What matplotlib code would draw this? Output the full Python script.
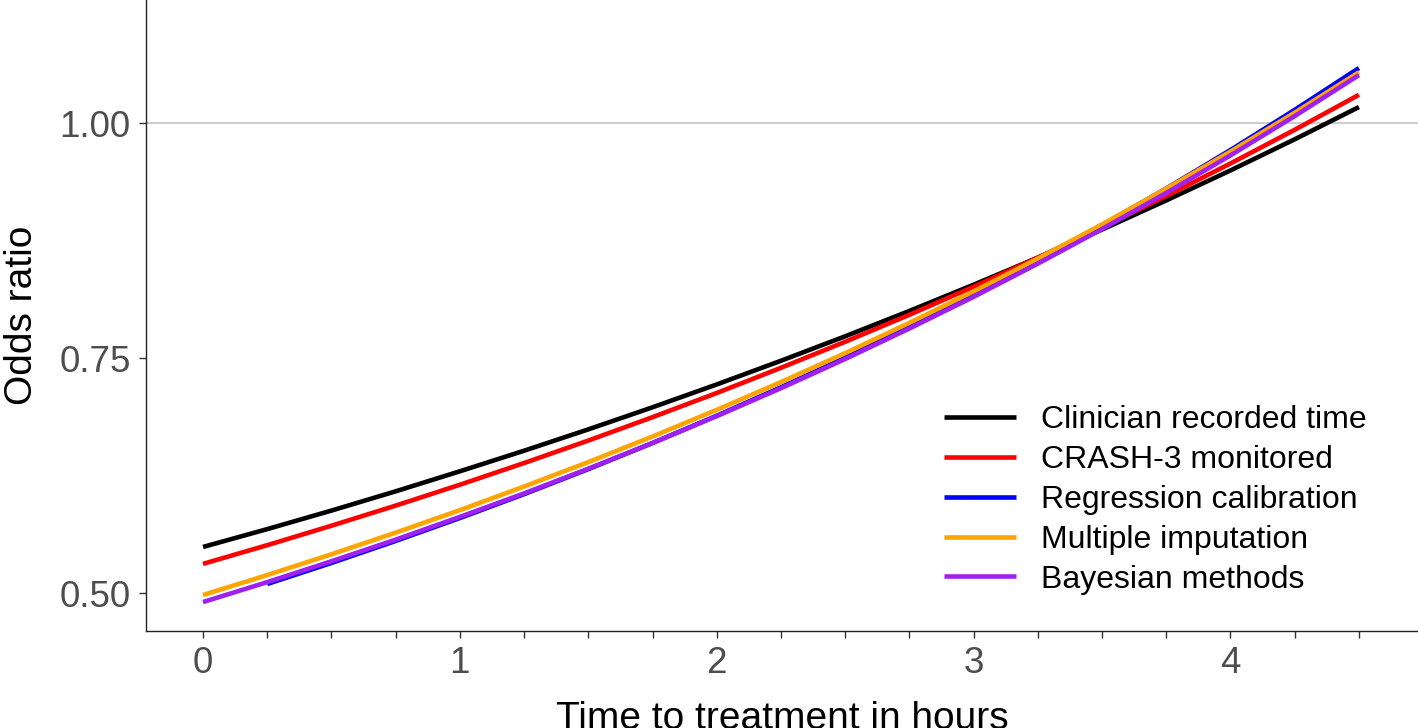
import matplotlib
matplotlib.use("Agg")
import matplotlib.pyplot as plt
from matplotlib.ticker import MultipleLocator, FixedLocator, FixedFormatter, FuncFormatter

plt.rcParams["font.family"] = ["Liberation Sans", "DejaVu Sans"]

# values, every quarter hour
hours = [0.0, 0.25, 0.5, 0.75, 1.0, 1.25, 1.5, 1.75, 2.0, 2.25,
         2.5, 2.75, 3.0, 3.25, 3.5, 3.75, 4.0, 4.25, 4.5]
clinicianOr = [0.5490, 0.5680, 0.5877, 0.6082, 0.6295, 0.6514, 0.6741, 0.6976, 0.7219, 0.7471,
               0.7731, 0.8001, 0.8280, 0.8568, 0.8867, 0.9177, 0.9496, 0.9827, 1.0170]
crashOr = [0.5310, 0.5509, 0.5716, 0.5930, 0.6152, 0.6383, 0.6622, 0.6871, 0.7128, 0.7396,
           0.7673, 0.7960, 0.8259, 0.8568, 0.8890, 0.9224, 0.9570, 0.9928, 1.0300]
regressionHours = hours[1:]
regressionOr = [0.5096, 0.5320, 0.5554, 0.5798, 0.6052, 0.6318, 0.6596, 0.6886, 0.7189,
                0.7504, 0.7834, 0.8178, 0.8538, 0.8913, 0.9304, 0.9713, 1.0140, 1.0585]
imputationOr = [0.4979, 0.5191, 0.5412, 0.5642, 0.5882, 0.6133, 0.6393, 0.6665, 0.6949, 0.7244,
                0.7552, 0.7874, 0.8209, 0.8558, 0.8922, 0.9302, 0.9697, 1.0110, 1.0540]
bayesianOr = [0.4904, 0.5116, 0.5338, 0.5568, 0.5810, 0.6060, 0.6323, 0.6596, 0.6882, 0.7179,
              0.7490, 0.7814, 0.8151, 0.8504, 0.8872, 0.9256, 0.9656, 1.0074, 1.0510]

seriesList = [
    ("Clinician recorded time", hours, clinicianOr, "black"),
    ("CRASH-3 monitored", hours, crashOr, "#FF0000"),
    ("Regression calibration", regressionHours, regressionOr, "#0000FF"),
    ("Multiple imputation", hours, imputationOr, "#FFA500"),
    ("Bayesian methods", hours, bayesianOr, "#A020F0"),
]

yTicks = [0.50, 0.75, 1.00]
yTickLabels = ["0.50", "0.75", "1.00"]


def integerOnly(value, position):
    return f"{value:.0f}" if abs(value - round(value)) < 1e-6 else ""


fig = plt.figure(figsize=(14.18, 7.28), dpi=100)
axis = fig.add_axes([146 / 1418, 97 / 728, 1272 / 1418, 631 / 728])

axis.axhline(1.0, color="#BEBEBE", linewidth=1.1, zorder=1)
for labelText, xValues, yValues, lineColor in seriesList:
    axis.plot(xValues, yValues, color=lineColor, linewidth=3.3, label=labelText,
              solid_capstyle="butt", solid_joinstyle="round", zorder=2)

axis.set_xlim(-0.222, 4.73)
axis.set_ylim(0.4596, 1.1309)

axis.xaxis.set_major_locator(MultipleLocator(0.25))
axis.xaxis.set_major_formatter(FuncFormatter(integerOnly))
axis.yaxis.set_major_locator(FixedLocator(yTicks))
axis.yaxis.set_major_formatter(FixedFormatter(yTickLabels))

for side in ["top", "right"]:
    axis.spines[side].set_visible(False)
for side in ["left", "bottom"]:
    axis.spines[side].set_color("#222222")
    axis.spines[side].set_linewidth(1.0)

axis.tick_params(axis="both", length=5, width=1.0, color="#333333",
                 labelsize=26.5, labelcolor="#4D4D4D", pad=6)

axis.set_xlabel("Time to treatment in hours", fontsize=28, labelpad=14)
axis.set_ylabel("Odds ratio", fontsize=28, labelpad=14)

axis.legend(loc="upper left", bbox_to_anchor=(944 / 1418, 1 - 405 / 728),
            bbox_transform=fig.transFigure, frameon=False, fontsize=23,
            handlelength=2.25, handletextpad=0.8, labelspacing=0.31,
            borderpad=0, borderaxespad=0)

fig.savefig("out.png", dpi=100)
